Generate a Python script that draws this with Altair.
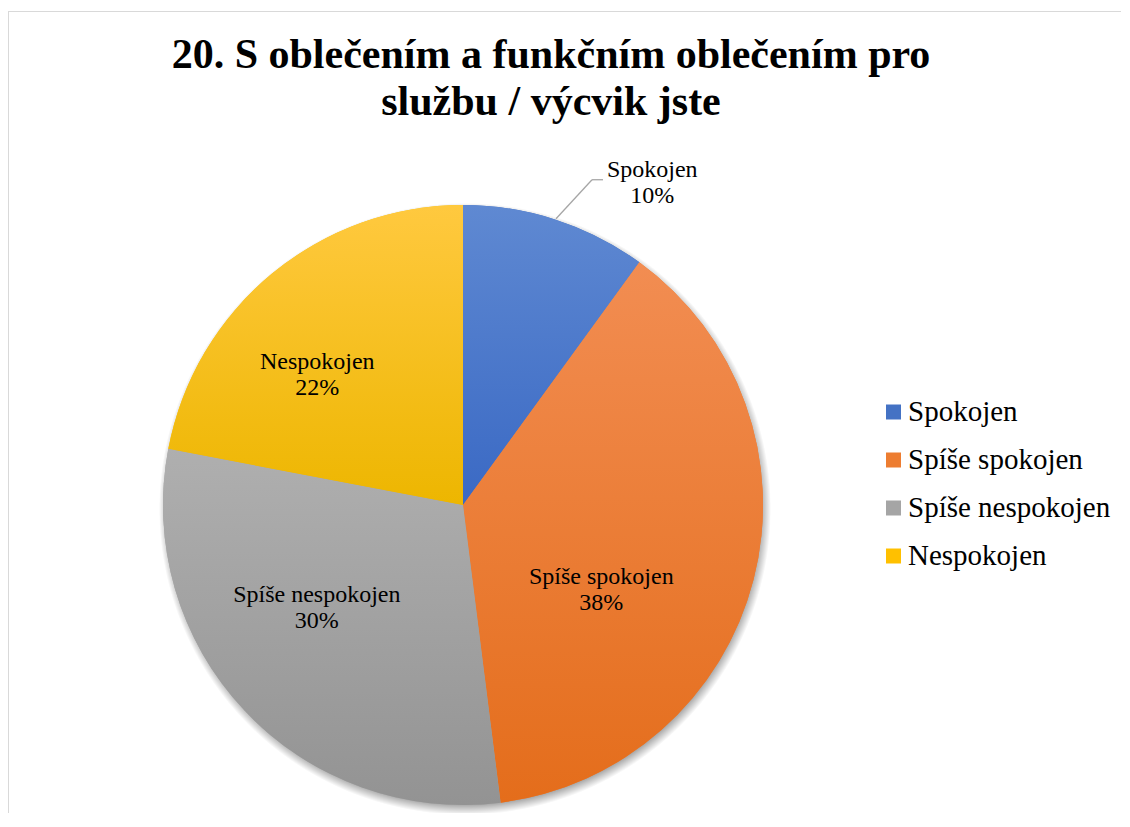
import altair as alt
import pandas as pd

# ---- data ----
categories = ["Spokojen", "Spíše spokojen", "Spíše nespokojen", "Nespokojen"]
percent = [10, 38, 30, 22]

# ---- styles ----
legend_colors = ["#4472C4", "#ED7D31", "#A5A5A5", "#FFC000"]
grad_top = ["#5F89D2", "#F28D52", "#AFAFAF", "#FFC93F"]
grad_bottom = ["#3A69C4", "#E46D1B", "#939393", "#EDB600"]
# label offsets (radius, dx, dy) per slice
label_style = {
    "Spokojen": (360, 78, 14),
    "Spíše spokojen": (180, -36, 34),
    "Spíše nespokojen": (180, -15, -26),
    "Nespokojen": (180, -31, 3),
}

R = 300
SERIF = "Liberation Serif"

df = pd.DataFrame({"kat": categories, "pct": percent, "idx": list(range(len(categories)))})

base = alt.Chart(df).transform_window(
    cum="sum(pct)", sort=[alt.SortField("idx")], frame=[None, 0]
).transform_calculate(
    start="datum.cum - datum.pct",
    mid="datum.cum - datum.pct / 2",
    label="datum.kat + '\\n' + datum.pct + '%'",
)

theta_scale = alt.Scale(domain=[0, 100])
theta_start = alt.Theta("start:Q", scale=theta_scale, stack=False)
theta_end = alt.Theta2("cum:Q")

# soft shadow under the pie
shadow = alt.Chart(pd.DataFrame({"s": [1]})).mark_arc(
    outerRadius=306, theta=0, theta2=6.2832, strokeWidth=0,
    fill=alt.RadialGradient(
        gradient="radial",
        stops=[
            alt.GradientStop(color="rgba(0,0,0,0.45)", offset=0),
            alt.GradientStop(color="rgba(0,0,0,0.40)", offset=0.96),
            alt.GradientStop(color="rgba(0,0,0,0)", offset=1),
        ],
    ),
).encode(x=alt.value(R + 2), y=alt.value(R + 4))

# base slices carrying the legend
legend_layer = base.mark_arc(outerRadius=R, strokeWidth=0).encode(
    theta=theta_start,
    theta2=theta_end,
    color=alt.Color(
        "kat:N",
        sort=categories,
        scale=alt.Scale(domain=categories, range=legend_colors),
        legend=alt.Legend(
            title=None, orient="none", direction="vertical",
            legendX=716, legendY=192.5,
            symbolType="square", symbolSize=225, symbolStrokeWidth=0,
            labelFont=SERIF, labelFontSize=29, labelColor="#000000",
            labelOffset=0, rowPadding=18, padding=0, labelLimit=400,
        ),
    ),
)

layers = [shadow, legend_layer]

# gradient overlays per slice
for c, t, b in zip(categories, grad_top, grad_bottom):
    layers.append(
        base.transform_filter(alt.datum.kat == c).mark_arc(
            outerRadius=R, strokeWidth=0,
            fill=alt.LinearGradient(
                gradient="linear",
                stops=[alt.GradientStop(color=t, offset=0), alt.GradientStop(color=b, offset=1)],
                x1=0, x2=0, y1=0, y2=1,
            ),
        ).encode(theta=theta_start, theta2=theta_end)
    )

# leader line for the outside label
leader = base.transform_filter(alt.datum.kat == categories[0]).transform_calculate(
    a="datum.mid / 100 * 2 * PI",
).transform_calculate(
    lx1="width / 2 + 301 * sin(datum.a)",
    ly1="height / 2 - 301 * cos(datum.a)",
).transform_calculate(
    lx2="datum.lx1 + 36",
    ly2="datum.ly1 - 39",
).transform_calculate(
    lx3="datum.lx2 + 11",
)
layers.append(
    leader.mark_rule(color="#A6A6A6", strokeWidth=1.3).encode(
        x=alt.X("lx1:Q", scale=None, axis=None),
        y=alt.Y("ly1:Q", scale=None, axis=None),
        x2="lx2:Q",
        y2="ly2:Q",
    )
)
layers.append(
    leader.mark_rule(color="#A6A6A6", strokeWidth=1.3).encode(
        x=alt.X("lx2:Q", scale=None, axis=None),
        y=alt.Y("ly2:Q", scale=None, axis=None),
        x2="lx3:Q",
    )
)

# data labels
for c in categories:
    rad, dx, dy = label_style[c]
    layers.append(
        base.transform_filter(alt.datum.kat == c).mark_text(
            radius=rad, dx=dx, dy=dy, font=SERIF, fontSize=24, lineHeight=26,
            baseline="alphabetic", align="center", lineBreak="\n", color="#000000",
        ).encode(
            theta=alt.Theta("mid:Q", scale=theta_scale, stack=False),
            text="label:N",
        )
    )

# chart frame lines (top and left)
layers.append(
    alt.Chart(pd.DataFrame({"s": [1]})).mark_rule(color="#D9D9D9", strokeWidth=1).encode(
        x=alt.value(-155), x2=alt.value(958), y=alt.value(-193.5)
    )
)
layers.append(
    alt.Chart(pd.DataFrame({"s": [1]})).mark_rule(color="#D9D9D9", strokeWidth=1).encode(
        x=alt.value(-154.5), y=alt.value(-193.5), y2=alt.value(608)
    )
)

chart = alt.layer(*layers).properties(
    width=600,
    height=600,
    autosize=alt.AutoSizeParams(type="none"),
    padding={"left": 155, "top": 197, "right": 358, "bottom": 8},
    background="white",
    title=alt.TitleParams(
        text=["20. S oblečením a funkčním oblečením pro", "službu / výcvik jste"],
        font=SERIF, fontSize=42, fontWeight="bold", lineHeight=47,
        anchor="middle", frame="group", offset=-113, dx=88, color="#000000",
    ),
).configure_view(stroke=None)

chart.save("out.html", embed_options={"renderer": "svg", "actions": False})
